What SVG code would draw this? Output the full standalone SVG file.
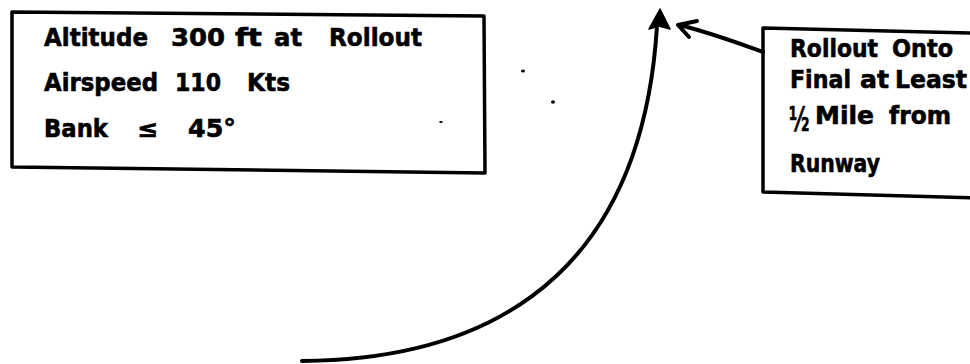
<svg xmlns="http://www.w3.org/2000/svg" width="970" height="364" viewBox="0 0 970 364">
<style>
.box{fill:#fff;stroke:#000;stroke-width:3.5;stroke-linejoin:round}
.t{font-family:"DejaVu Sans","Liberation Sans",sans-serif;font-weight:bold;font-size:24px;fill:#000;stroke:#000;stroke-width:0.6}
.line{fill:none;stroke:#000;stroke-width:4;stroke-linecap:round;stroke-linejoin:round}
</style>
<rect width="970" height="364" fill="#fff"/>
<g id="conditions">
<polygon class="box" points="12,12 484,16 485,173 12,167"/>
<text class="t" x="44" y="46" textLength="104" lengthAdjust="spacingAndGlyphs">Altitude</text>
<text class="t" x="171" y="46" textLength="54" lengthAdjust="spacingAndGlyphs">300</text>
<text class="t" x="235" y="46" textLength="27" lengthAdjust="spacingAndGlyphs">ft</text>
<text class="t" x="274" y="46" textLength="28" lengthAdjust="spacingAndGlyphs">at</text>
<text class="t" x="329" y="46" textLength="93" lengthAdjust="spacingAndGlyphs">Rollout</text>
<text class="t" x="44" y="91" textLength="114" lengthAdjust="spacingAndGlyphs">Airspeed</text>
<text class="t" x="175" y="91" textLength="46" lengthAdjust="spacingAndGlyphs">110</text>
<text class="t" x="247" y="91" textLength="43" lengthAdjust="spacingAndGlyphs">Kts</text>
<text class="t" x="44" y="137" textLength="64" lengthAdjust="spacingAndGlyphs">Bank</text>
<text class="t" x="137" y="137" textLength="21" lengthAdjust="spacingAndGlyphs">≤</text>
<text class="t" x="188" y="137" textLength="48" lengthAdjust="spacingAndGlyphs">45°</text>
</g>
<g id="rollout">
<polygon class="box" points="763,28 975,33 975,198 763,192"/>
<text class="t" x="790" y="57" textLength="88" lengthAdjust="spacingAndGlyphs">Rollout</text>
<text class="t" x="892" y="57" textLength="61" lengthAdjust="spacingAndGlyphs">Onto</text>
<text class="t" x="790" y="88" textLength="61" lengthAdjust="spacingAndGlyphs">Final</text>
<text class="t" x="860" y="88" textLength="29" lengthAdjust="spacingAndGlyphs">at</text>
<text class="t" x="895" y="88" textLength="72" lengthAdjust="spacingAndGlyphs">Least</text>
<text class="t" transform="translate(789,131) scale(0.58,1)" x="0" y="0" style="font-size:34px">½</text>
<text class="t" x="815" y="124" textLength="59" lengthAdjust="spacingAndGlyphs">Mile</text>
<text class="t" x="889" y="124" textLength="62" lengthAdjust="spacingAndGlyphs">from</text>
<text class="t" x="790" y="172" textLength="90" lengthAdjust="spacingAndGlyphs">Runway</text>
</g>
<g id="connectors">
<path class="line" d="M302,361 C460,360 640,300 657,26"/>
<polygon points="660,9 670,29 659,26 649,29" fill="#000" stroke="#000" stroke-width="1.5" stroke-linejoin="round"/>
<path class="line" d="M763,52 C735,42 712,33 679,25"/>
<path class="line" d="M697,21 L678,25 L689,37"/>
</g>
<g id="specks" fill="#000">
<ellipse cx="523" cy="71" rx="2" ry="1.5"/>
<ellipse cx="553" cy="102" rx="2" ry="1.8"/>
<ellipse cx="441" cy="122" rx="1.8" ry="1"/>
</g>
</svg>
